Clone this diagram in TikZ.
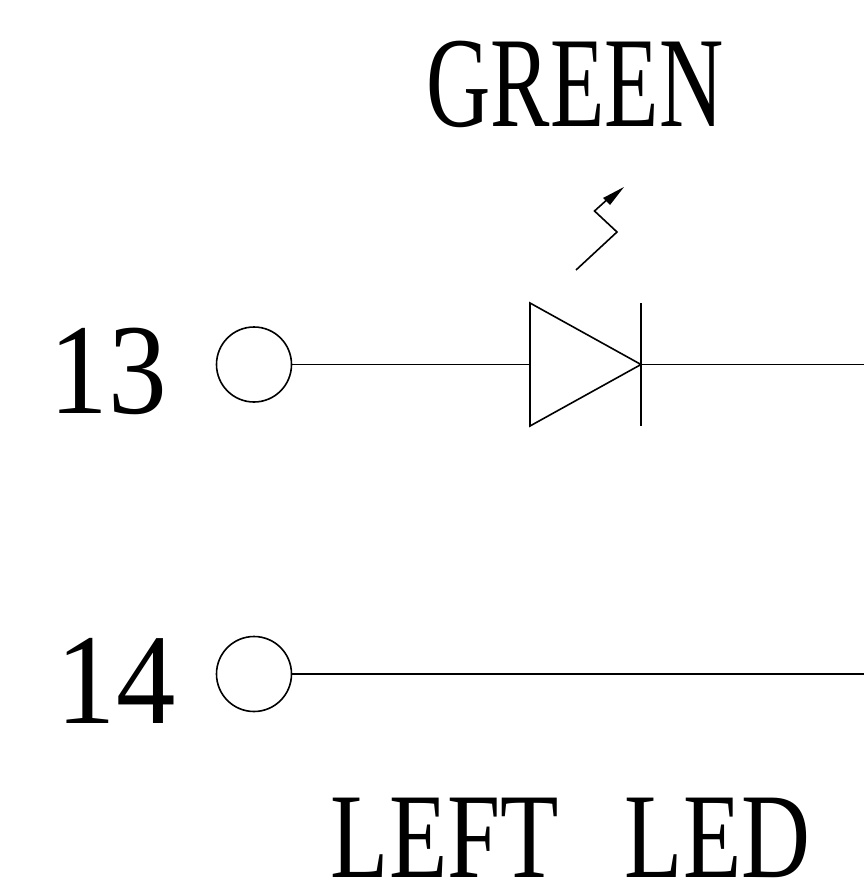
\documentclass[tikz,border=0pt]{standalone}
\usepackage{fontspec}
\setmainfont{Liberation Serif}
\begin{document}
\begin{tikzpicture}[x=1pt,y=-1pt,line width=1.6pt,
  pin/.style={circle,draw,minimum size=75pt,inner sep=0pt},
  lbl/.style={inner sep=0pt,anchor=center,font=\fontsize{129}{129}\selectfont}]
\useasboundingbox (0,0) rectangle (864,891);
\node[pin] (p13) at (254,364.5) {};
\node[pin] (p14) at (254,674) {};
\coordinate (e13) at (864,364.5);
\coordinate (e14) at (864,674);
\coordinate (an) at (530,364.5);
\coordinate (ca) at (641,364.5);
\draw (p13.east) -- (an);
\draw (ca) -- (e13);
\draw (p14.east) -- (e14);
\draw (530,303) -- (530,426) -- (641,364.5) -- cycle;
\draw (641,303) -- (641,426);
\draw (576,270) -- (617,232) -- (594.5,211) -- (610,197);
\fill (624,187) -- (603,198) -- (610,205) -- cycle;
\node[lbl,xscale=0.91] (t13) at (108,371) {13};
\node[lbl,xscale=0.92] (t14) at (116,681) {14};
\node[lbl,xscale=0.69] (green) at (575,84) {GREEN};
\node[lbl,xscale=0.74,yscale=0.94] (left) at (570.5,838) {LEFT\hspace{0.69em}LED};
\end{tikzpicture}
\end{document}
